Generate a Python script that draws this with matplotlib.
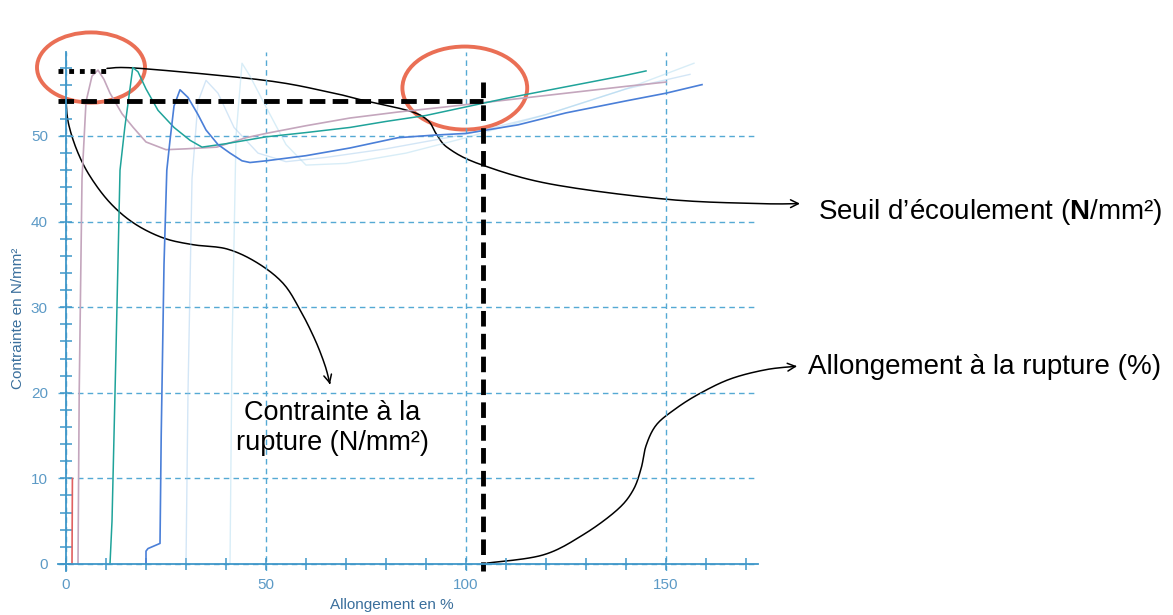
import numpy as np
import matplotlib
matplotlib.use("Agg")
import matplotlib.pyplot as plt
from matplotlib.patches import Ellipse, FancyArrowPatch
from matplotlib.path import Path
from matplotlib.ticker import MultipleLocator

plt.rcParams["font.family"] = ["Liberation Sans", "DejaVu Sans"]
plt.rcParams["mathtext.fontset"] = "custom"
plt.rcParams["mathtext.rm"] = "Liberation Sans"
plt.rcParams["mathtext.bf"] = "Liberation Sans:bold"
plt.rcParams["mathtext.it"] = "Liberation Sans:italic"

# stress-strain curves (elongation %, stress N/mm2)
TEAL_X = [11, 11.5, 12.5, 13.5, 14.7, 16.7, 18, 20, 23, 27, 31, 34, 40, 50,
          60, 71, 80, 90, 100, 110, 120, 130, 140, 145]
TEAL_Y = [0, 5, 25, 46, 51, 58, 57.5, 55.5, 53, 51, 49.5, 48.7, 49.1, 49.9,
          50.4, 51, 51.7, 52.4, 53.4, 54.4, 55.3, 56.2, 57.1, 57.6]

BLUE_X = [20, 20, 20.5, 23.5, 23.8, 24.5, 25.2, 26, 27, 28.5, 30.5, 33, 35,
          38, 41, 44, 46, 50, 60, 71, 83, 92, 100, 113, 125, 140, 150, 159]
BLUE_Y = [0, 1.5, 1.8, 2.4, 15, 35, 46, 49.5, 53.5, 55.4, 54.5, 52.5, 50.7,
          49, 48, 47.1, 46.9, 47.1, 47.7, 48.6, 49.8, 50.1, 50.3, 51.3, 52.7,
          54.1, 55, 56]

LAV_X = [3, 3.3, 4, 5, 6.5, 8, 9.5, 11, 14, 16.8, 20, 25, 30, 37.7, 45, 50,
         60, 71, 83, 95, 110, 125, 140, 150]
LAV_Y = [0, 20, 45, 54, 57, 57.7, 56.6, 55, 52.6, 51, 49.3, 48.4, 48.5, 48.7,
         49.8, 50.3, 51.2, 52.1, 52.8, 53.4, 54.2, 55, 55.8, 56.3]

RED_X = [1.5, 1.6]
RED_Y = [0, 10]

FAINT_BLUE_X = [30, 30.5, 31.5, 33, 35, 38, 42, 48, 55, 65, 80, 100, 120,
                140, 156]
FAINT_BLUE_Y = [0, 20, 45, 54, 56.5, 55, 51, 48, 47, 47.5, 48.5, 50.2, 52.5,
                55.5, 57.2]
FAINT_SKY_X = [41, 41.5, 42.5, 44, 46, 50, 55, 60, 70, 85, 100, 120, 140, 157]
FAINT_SKY_Y = [0, 25, 50, 58.5, 57, 53.4, 49, 46.6, 46.8, 48, 49.8, 52.5,
               55.5, 58.5]

# reference marks drawn on top
YIELD_LEVEL = 57.6
YIELD_END = 10
BREAK_STRESS = 54.1
BREAK_STRAIN = 104.2

# hand-drawn annotation curves (data coords)
SEUIL_PATH = [(10.25, 57.9), (18.5, 57.9), (49.75, 56.5), (66, 55.1),
              (74, 54.2), (86, 52.9), (90.5, 51.8), (92.5, 50.3),
              (95.5, 48.6), (103.5, 46.7), (121, 44.4), (150.25, 42.6),
              (173.5, 42.1), (183.5, 42.1)]
CONTR_PATH = [(0, 54.2), (0.6, 51.5), (2.75, 48.3), (6, 45.3), (11, 42.2),
              (17, 39.8), (24.25, 38.1), (31.75, 37.3), (40.25, 36.8),
              (47.75, 35.2), (54.25, 32.8), (58.5, 29.7), (62.25, 26.2),
              (64.75, 23.2), (66, 21.0)]
ALLONG_PATH = [(105.25, 0.1), (119.25, 1.05), (129.25, 3.4), (137.75, 6.3),
               (141.75, 8.6), (143.8, 11.2), (145, 13.8), (147.5, 16.2),
               (152, 18.0), (158, 19.8), (166, 21.6), (175, 22.7),
               (182.75, 23.1)]

AXIS_BLUE = "#3f97c9"
TICK_TXT = "#5c9ac6"


def smooth(pts, n=12):
    # Catmull-Rom through the hand-drawn guide points
    p = np.asarray(pts, dtype=float)
    p = np.vstack([p[0], p, p[-1]])
    out = []
    for i in range(1, len(p) - 2):
        p0, p1, p2, p3 = p[i - 1], p[i], p[i + 1], p[i + 2]
        for t in np.linspace(0, 1, n, endpoint=False):
            t2, t3 = t * t, t * t * t
            out.append(0.5 * ((2 * p1) + (-p0 + p2) * t
                              + (2 * p0 - 5 * p1 + 4 * p2 - p3) * t2
                              + (-p0 + 3 * p1 - 3 * p2 + p3) * t3))
    out.append(p[-2])
    return np.array(out)


fig = plt.figure(figsize=(11.73, 6.15), dpi=100)
ax = fig.add_axes([0.04945, 0.07187, 0.59676, 0.8434])
ax.set_xlim(-2, 173)
ax.set_ylim(-0.8, 59.8)

for side in ["top", "right"]:
    ax.spines[side].set_visible(False)
ax.spines["left"].set_position(("data", 0))
ax.spines["bottom"].set_position(("data", 0))
for side in ["left", "bottom"]:
    ax.spines[side].set_color(AXIS_BLUE)
    ax.spines[side].set_linewidth(1.3)

ax.xaxis.set_major_locator(MultipleLocator(50))
ax.xaxis.set_minor_locator(MultipleLocator(10))
ax.yaxis.set_major_locator(MultipleLocator(10))
ax.yaxis.set_minor_locator(MultipleLocator(2))
ax.tick_params(which="both", direction="inout", length=8, width=1.1,
               color=AXIS_BLUE, labelcolor=TICK_TXT, labelsize=11)
ax.tick_params(axis="x", which="both", pad=6)
ax.tick_params(axis="y", which="both", pad=9)
ax.set_yticks([0, 10, 20, 30, 40, 50])
ax.grid(True, which="major", color="#55a9d4", linestyle=(0, (4, 3)),
        linewidth=1.0)

ax.plot(FAINT_BLUE_X, FAINT_BLUE_Y, color="#9fc8ec", lw=1.0, alpha=0.45)
ax.plot(FAINT_SKY_X, FAINT_SKY_Y, color="#a9d8ee", lw=1.0, alpha=0.45)
ax.plot(RED_X, RED_Y, color="#e06060", lw=1.2)
ax.plot(LAV_X, LAV_Y, color="#c4a6bd", lw=1.2)
ax.plot(TEAL_X, TEAL_Y, color="#1fa39a", lw=1.1)
ax.plot(BLUE_X, BLUE_Y, color="#4a7fd8", lw=1.2)

# yield / break markers
ax.plot([-2, YIELD_END], [YIELD_LEVEL, YIELD_LEVEL], color="black", lw=3.5,
        linestyle=(0, (1, 1.2)), clip_on=False)
ax.plot([-2, BREAK_STRAIN], [BREAK_STRESS, BREAK_STRESS], color="black",
        lw=3.5, linestyle=(0, (3.2, 1.5)), clip_on=False)
ax.plot([BREAK_STRAIN, BREAK_STRAIN], [BREAK_STRESS + 2.2, -0.8],
        color="black", lw=3.5, linestyle=(0, (3.2, 1.5)), clip_on=False)

ax.add_patch(Ellipse((6.25, 58.0), 27, 8.2, fill=False, edgecolor="#ea6f55",
                     lw=2.8, clip_on=False))
ax.add_patch(Ellipse((99.7, 55.6), 31.2, 9.7, fill=False, edgecolor="#ea6f55",
                     lw=2.8, clip_on=False))

for pts in [SEUIL_PATH, CONTR_PATH, ALLONG_PATH]:
    arr = FancyArrowPatch(path=Path(smooth(pts)), arrowstyle="->",
                          mutation_scale=14, color="black", lw=1.1,
                          clip_on=False)
    ax.add_patch(arr)

ax.text(188, 41.1, r"Seuil d’écoulement ($\mathbf{N}$/mm²)", fontsize=20,
        va="center", ha="left")
ax.text(185.5, 23.0, "Allongement à la rupture (%)", fontsize=20,
        va="center", ha="left")
ax.text(66.5, 15.9, "Contrainte à la\nrupture (N/mm²)", fontsize=19.5,
        va="center", ha="center", multialignment="center")

fig.text(392 / 1173, 1 - 605 / 615, "Allongement en %", fontsize=11,
         color="#3a6f9c", ha="center", va="center")
fig.text(18 / 1173, 1 - 318 / 615, "Contrainte en N/mm²", fontsize=11,
         color="#3a6f9c", ha="center", va="center", rotation=90)

fig.savefig("out.png", dpi=100)
